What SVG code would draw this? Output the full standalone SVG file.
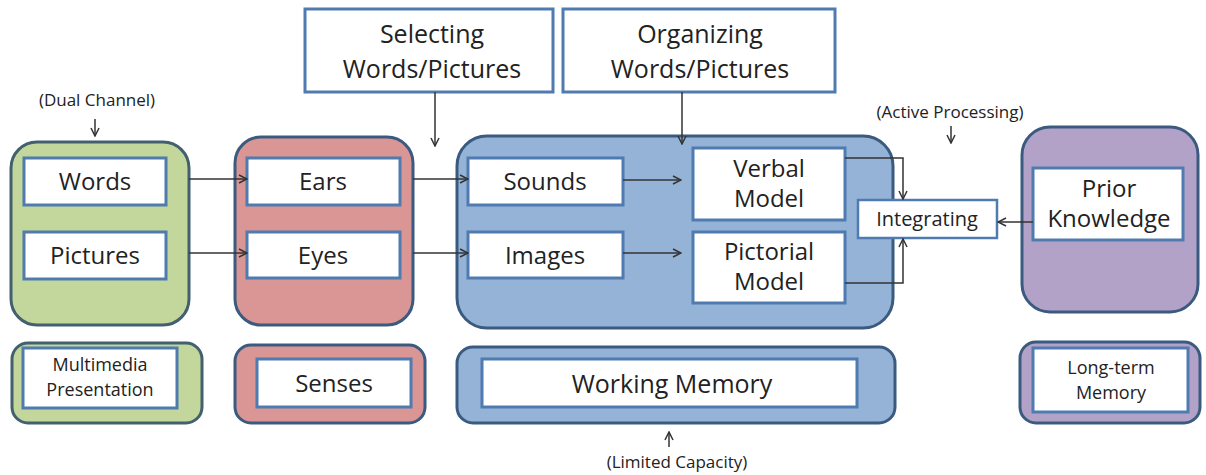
<svg xmlns="http://www.w3.org/2000/svg" width="1206" height="475" viewBox="0 0 1206 475">
<style>
text{font-family:"Open Sans","Liberation Sans",sans-serif;fill:#222222;text-anchor:middle}
.lbl{font-size:24px}
.big{font-size:25px}
.sm{font-size:20px}
.mid{font-size:18px}
.note{font-size:17px}
.cont{stroke:#3b5a80;stroke-width:3}
.green{fill:#c3d69b;stroke:#42606e}
.red{fill:#d99694}
.blue{fill:#95b3d7}
.purple{fill:#b3a2c7}
.box{fill:#ffffff;stroke:#4f7bb0;stroke-width:3}
.conn{fill:none;stroke:#333333;stroke-width:1.5}
</style>
<defs>
<marker id="ah" viewBox="0 0 10 10" refX="9" refY="5" markerWidth="10" markerHeight="10" markerUnits="userSpaceOnUse" orient="auto">
<path d="M1,1 L9,5 L1,9" fill="none" stroke="#333333" stroke-width="1.5"/>
</marker>
</defs>
<rect width="1206" height="475" fill="#ffffff"/>

<g id="dual-channel-note">
<text class="note" x="97" y="106">(Dual Channel)</text>
</g>
<g id="active-processing-note">
<text class="note" x="950" y="118">(Active Processing)</text>
</g>
<g id="limited-capacity-note">
<text class="note" x="677" y="468">(Limited Capacity)</text>
</g>

<g id="multimedia-container">
<rect class="cont green" x="11" y="142" width="178" height="183" rx="26"/>
</g>
<g id="senses-container">
<rect class="cont red" x="235" y="137" width="178" height="188" rx="26"/>
</g>
<g id="wm-container">
<rect class="cont blue" x="457" y="136" width="436" height="192" rx="30"/>
</g>
<g id="ltm-container">
<rect class="cont purple" x="1022" y="127" width="176" height="185" rx="28"/>
</g>

<g id="words"><rect class="box" x="24" y="158" width="142" height="47"/><text class="lbl" x="95" y="190">Words</text></g>
<g id="pictures"><rect class="box" x="24" y="232" width="142" height="47"/><text class="lbl" x="95" y="264">Pictures</text></g>
<g id="ears"><rect class="box" x="247" y="158" width="153" height="47"/><text class="lbl" x="323" y="190">Ears</text></g>
<g id="eyes"><rect class="box" x="247" y="232" width="153" height="46"/><text class="lbl" x="323" y="264">Eyes</text></g>
<g id="sounds"><rect class="box" x="468" y="158" width="155" height="47"/><text class="lbl" x="545" y="190">Sounds</text></g>
<g id="images"><rect class="box" x="468" y="232" width="155" height="46"/><text class="lbl" x="545" y="264">Images</text></g>
<g id="verbal-model"><rect class="box" x="693" y="148" width="152" height="72"/><text class="lbl" x="769" y="177">Verbal</text><text class="lbl" x="769" y="207">Model</text></g>
<g id="pictorial-model"><rect class="box" x="693" y="232" width="152" height="71"/><text class="lbl" x="769" y="260">Pictorial</text><text class="lbl" x="769" y="290">Model</text></g>
<g id="integrating"><rect class="box" x="858" y="200" width="139" height="38" style="stroke-width:2.5"/><text class="sm" x="927" y="226">Integrating</text></g>
<g id="prior-knowledge"><rect class="box" x="1033" y="168" width="150" height="72"/><text class="lbl" x="1109" y="197">Prior</text><text class="lbl" x="1109" y="227">Knowledge</text></g>

<g id="selecting"><rect class="box" x="305" y="9" width="248" height="83"/><text class="big" x="432" y="43">Selecting</text><text class="big" x="432" y="78">Words/Pictures</text></g>
<g id="organizing"><rect class="box" x="563" y="9" width="272" height="83"/><text class="big" x="700" y="43">Organizing</text><text class="big" x="700" y="78">Words/Pictures</text></g>

<g id="multimedia-presentation">
<rect class="cont green" x="12" y="343" width="190" height="80" rx="16"/>
<rect class="box" x="23" y="348" width="154" height="60"/>
<text class="mid" x="100" y="371">Multimedia</text>
<text class="mid" x="100" y="396">Presentation</text>
</g>
<g id="senses">
<rect class="cont red" x="235" y="345" width="190" height="78" rx="16"/>
<rect class="box" x="257" y="359" width="154" height="48"/>
<text class="lbl" x="334" y="392">Senses</text>
</g>
<g id="working-memory">
<rect class="cont blue" x="457" y="347" width="438" height="76" rx="16"/>
<rect class="box" x="482" y="359" width="375" height="48"/>
<text class="big" x="672" y="393">Working Memory</text>
</g>
<g id="long-term-memory">
<rect class="cont purple" x="1020" y="342" width="180" height="81" rx="16"/>
<rect class="box" x="1033" y="348" width="155" height="64"/>
<text class="mid" x="1111" y="374">Long-term</text>
<text class="mid" x="1111" y="399">Memory</text>
</g>

<g id="connectors">
<path class="conn" d="M95,119 L95,136" marker-end="url(#ah)"/>
<path class="conn" d="M951,126 L951,143" marker-end="url(#ah)"/>
<path class="conn" d="M669,447 L669,432" marker-end="url(#ah)"/>
<path class="conn" d="M435,92 L435,146" marker-end="url(#ah)"/>
<path class="conn" d="M682,92 L682,144" marker-end="url(#ah)"/>
<path class="conn" d="M189,179 L247,179" marker-end="url(#ah)"/>
<path class="conn" d="M189,253 L247,253" marker-end="url(#ah)"/>
<path class="conn" d="M413,179 L468,179" marker-end="url(#ah)"/>
<path class="conn" d="M413,253 L468,253" marker-end="url(#ah)"/>
<path class="conn" d="M623,180 L681,180" marker-end="url(#ah)"/>
<path class="conn" d="M623,253 L681,253" marker-end="url(#ah)"/>
<path class="conn" d="M845,158 L903,158 L903,199" marker-end="url(#ah)"/>
<path class="conn" d="M845,283 L903,283 L903,239" marker-end="url(#ah)"/>
<path class="conn" d="M1033,222 L998,222" marker-end="url(#ah)"/>
</g>
</svg>
